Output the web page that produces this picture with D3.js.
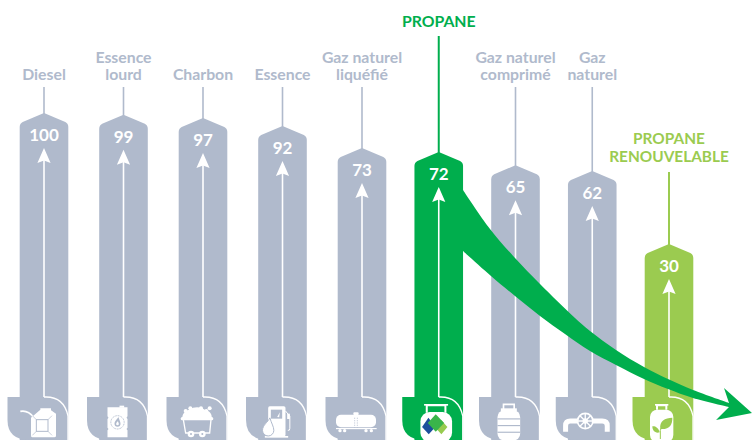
<!DOCTYPE html>
<html>
<head>
<meta charset="utf-8">
<script src="https://cdn.jsdelivr.net/npm/d3@7"></script>
<style>
html, body { margin: 0; padding: 0; background: #fff; }
svg { display: block; }
text { font-family: Lato, sans-serif; font-weight: 700; }
</style>
</head>
<body>
<div id="graph"></div>
<script>
const width = 752, height = 440;

const fuels = ["Diesel", "Essence lourd", "Charbon", "Essence", "Gaz naturel liquéfié", "PROPANE", "Gaz naturel comprimé", "Gaz naturel", "PROPANE RENOUVELABLE"];
const labelLines = [["Diesel"], ["Essence", "lourd"], ["Charbon"], ["Essence"], ["Gaz naturel", "liquéfié"], ["PROPANE"], ["Gaz naturel", "comprimé"], ["Gaz", "naturel"], ["PROPANE", "RENOUVELABLE"]];
const values = [100, 99, 97, 92, 73, 72, 65, 62, 30];
const kinds = ["grey", "grey", "grey", "grey", "grey", "propane", "grey", "grey", "renew"];
const icons = ["can", "barrel", "cart", "pump", "tanker", "logo", "cylinder", "valve", "leaf"];

const grey = "#b0bacc", green = "#00ae4d", lime = "#9bcb50";
const colors = {grey: grey, propane: green, renew: lime};

// the original bars are not drawn to a strict linear scale, so several knots
const xScale = d3.scaleLinear().domain([0, 4, 8]).range([44, 362, 669]);
const yScale = d3.scaleLinear().domain([30, 62, 72, 73, 92, 100]).range([244, 171, 152, 148, 126, 113]);

const halfBar = 24.3, tileTop = 397;

const svg = d3.select("#graph").append("svg").attr("width", width).attr("height", height);

const groups = svg.selectAll("g.fuel").
data(fuels).
enter().
append("g").
attr("class", "fuel").
attr("transform", (d, i) => "translate(" + xScale(i) + ",0)");

// leader lines
groups.append("line").
attr("y1", (d, i) => kinds[i] === "propane" ? 36 : kinds[i] === "renew" ? 172 : 87).
attr("y2", (d, i) => yScale(values[i]) + 1).
attr("stroke", (d, i) => colors[kinds[i]]).
attr("stroke-width", (d, i) => kinds[i] === "grey" ? 1.6 : 2);

// bars with the pointed top
groups.append("path").
attr("fill", (d, i) => colors[kinds[i]]).
attr("d", (d, i) => {
  const y = yScale(values[i]);
  return "M0," + y + "L" + (halfBar - 3) + "," + (y + 9) + "Q" + halfBar + "," + (y + 10.5) + " " + halfBar + "," + (y + 14) +
  "V" + height + "H" + -halfBar + "V" + (y + 14) + "Q" + -halfBar + "," + (y + 10.5) + " " + (3 - halfBar) + "," + (y + 9) + "Z";
});

// value
groups.append("text").
attr("text-anchor", "middle").
attr("y", (d, i) => yScale(values[i]) + 28).
attr("font-size", 17).
attr("fill", "#fff").
text((d, i) => values[i]);

// white arrow in the bar
groups.append("line").
attr("y1", (d, i) => yScale(values[i]) + 45).
attr("y2", tileTop).
attr("stroke", "#fff").
attr("stroke-width", 1.6);
groups.append("path").
attr("fill", "#fff").
attr("d", (d, i) => {
  const y = yScale(values[i]) + 35;
  return "M0," + y + "L6.6," + (y + 15) + "L0," + (y + 12.5) + "L-6.6," + (y + 15) + "Z";
});

// labels
groups.each(function (d, i) {
  const lines = labelLines[i];
  const bottom = kinds[i] === "propane" ? 26.5 : kinds[i] === "renew" ? 162 : 80;
  const step = kinds[i] === "renew" ? 18 : 17.5;
  d3.select(this).selectAll("text.label").
  data(lines).
  enter().
  append("text").
  attr("class", "label").
  attr("text-anchor", "middle").
  attr("font-size", kinds[i] === "grey" ? 15.8 : kinds[i] === "propane" ? 15.8 : 15.4).
  attr("y", (l, j) => bottom - (lines.length - 1 - j) * step).
  attr("fill", colors[kinds[i]]).
  text(l => l);
});

// tiles at the foot of each bar
groups.append("path").
attr("fill", (d, i) => colors[kinds[i]]).
attr("d", "M-36.5," + tileTop + "H2Q20," + tileTop + " 24," + (tileTop + 19) + "V" + height + "H-14Q-36.5," + height + " -36.5," + (height - 20) + "Z");
groups.append("path").
attr("fill", "none").
attr("stroke", "#fff").
attr("stroke-width", 1.3).
attr("d", "M0," + tileTop + "H2Q20," + tileTop + " 24," + (tileTop + 19) + "V" + height);

// icons are drawn at 3x and scaled down
const iconLayer = groups.append("g").
attr("transform", "translate(0," + tileTop + ") scale(0.3333)");

function drop(g, cx, cy, r, fill, stroke) {
  g.append("path").
  attr("d", "M" + (cx + r * 0.3) + "," + (cy - r * 2.2) + "C" + (cx + r * 0.6) + "," + (cy - r * 1.2) + " " + (cx + r) + "," + (cy - r * 0.6) + " " + (cx + r) + "," + cy +
  "A" + r + "," + r + " 0 1 1 " + (cx - r) + "," + cy + "C" + (cx - r) + "," + (cy - r * 0.9) + " " + cx + "," + (cy - r * 1.5) + " " + (cx + r * 0.3) + "," + (cy - r * 2.2) + "Z").
  attr("fill", fill).
  attr("stroke", stroke || "none").
  attr("stroke-width", 3);
}

const drawIcon = {
  can(g, c) {
    g.append("path").attr("fill", "none").attr("stroke", "#fff").attr("stroke-width", 5).attr("d", "M-71,43Q-48,38 -30,62");
    g.append("path").attr("fill", "#fff").attr("d", "M-39,62L-11,38V34H21V40L36,50V116Q36,121 31,121H-34Q-39,121 -39,116Z");
    g.append("rect").attr("x", -23).attr("y", 68).attr("width", 35).attr("height", 35).attr("fill", "none").attr("stroke", c).attr("stroke-width", 3);
    g.append("path").attr("stroke", c).attr("stroke-width", 2).attr("d", "M-35,56L-23,68M24,56L12,68M-35,115L-23,103M24,115L12,103");
  },
  barrel(g, c) {
    g.append("rect").attr("x", -12).attr("y", 26).attr("width", 14).attr("height", 6).attr("fill", "#fff");
    g.append("path").attr("fill", "#fff").attr("d", "M-48,31H12V58L9,62L12,66V92L9,96L12,100V121H-48V100L-45,96L-48,92V66L-45,62L-48,58Z");
    g.append("circle").attr("cx", -18).attr("cy", 76).attr("r", 20).attr("fill", "none").attr("stroke", c).attr("stroke-width", 3).attr("stroke-dasharray", "3 2");
    drop(g, -18, 80, 9, c);
    drop(g, -18, 81, 4, "#fff");
  },
  cart(g, c) {
    g.append("path").attr("fill", "#fff").attr("d", "M-62,62C-62,48 -50,40 -40,38C-30,28 -5,28 5,38C18,40 28,50 26,62Z");
    [-52, -38, -22, -6, 10, 20].forEach((x, i) => {
      g.append("circle").attr("cx", x).attr("cy", i % 2 ? 34 : 42).attr("r", 6).attr("fill", "#fff");
    });
    g.append("rect").attr("x", -67).attr("y", 60).attr("width", 98).attr("height", 10).attr("rx", 5).attr("fill", "#fff");
    g.append("path").attr("fill", "none").attr("stroke", "#fff").attr("stroke-width", 4).attr("d", "M-59,68L-52,108H20L24,68");
    [-36, -2].forEach(x => {
      g.append("circle").attr("cx", x).attr("cy", 111).attr("r", 10).attr("fill", "#fff");
      g.append("circle").attr("cx", x).attr("cy", 111).attr("r", 3).attr("fill", c);
    });
  },
  pump(g, c) {
    g.append("rect").attr("x", -43).attr("y", 28).attr("width", 52).attr("height", 90).attr("rx", 5).attr("fill", "#fff");
    g.append("rect").attr("x", -53).attr("y", 117).attr("width", 70).attr("height", 5).attr("fill", "#fff");
    g.append("rect").attr("x", -35).attr("y", 38).attr("width", 34).attr("height", 27).attr("fill", c);
    g.append("path").attr("fill", "#fff").attr("d", "M-16,60L-8,46L-10,61Z");
    g.append("path").attr("fill", "none").attr("stroke", "#fff").attr("stroke-width", 3).attr("d", "M9,42L22,58V94Q22,102 16,100");
    g.append("rect").attr("x", 14).attr("y", 50).attr("width", 8).attr("height", 16).attr("fill", "#fff");
    drop(g, -43, 100, 17, "#fff", c);
  },
  tanker(g) {
    g.append("rect").attr("x", -78).attr("y", 53).attr("width", 120).attr("height", 38).attr("rx", 15).attr("fill", "#fff");
    g.append("rect").attr("x", -26).attr("y", 46).attr("width", 16).attr("height", 8).attr("rx", 3).attr("fill", "#fff");
    g.append("rect").attr("x", -78).attr("y", 93).attr("width", 122).attr("height", 3.5).attr("fill", "#fff");
    g.append("path").attr("stroke", grey).attr("stroke-width", 2).attr("stroke-dasharray", "4 3").attr("fill", "none").attr("d", "M-22,62V92M-14,62V92");
    [-66, -52, 12, 28].forEach(x => {
      g.append("circle").attr("cx", x).attr("cy", 101).attr("r", 5).attr("fill", "#fff");
    });
  },
  logo(g) {
    g.append("path").attr("fill", "none").attr("stroke", "#fff").attr("stroke-width", 6).attr("d", "M-36,47V25H20V47");
    g.append("rect").attr("x", -44).attr("y", 21).attr("width", 72).attr("height", 5).attr("fill", "#fff");
    g.append("rect").attr("x", -55).attr("y", 45).attr("width", 95).attr("height", 90).attr("rx", 28).attr("fill", "#fff");
    g.append("path").attr("fill", "#1c4f9c").attr("d", "M-31,62L-10,90L-30,112L-50,90Z");
    g.append("path").attr("fill", "#97cb4f").attr("d", "M8,70L26,90L8,112L-12,90Z");
    g.append("path").attr("fill", "#3ab54a").attr("d", "M-9,52L16,78L-9,104L-33,78Z");
  },
  cylinder(g, c) {
    g.append("path").attr("fill", "none").attr("stroke", "#fff").attr("stroke-width", 5).attr("d", "M-36,36V22H-4V36");
    g.append("rect").attr("x", -44).attr("y", 34).attr("width", 48).attr("height", 8).attr("fill", "#fff");
    g.append("rect").attr("x", -54).attr("y", 40).attr("width", 68).attr("height", 90).attr("rx", 20).attr("fill", "#fff");
    [64, 84, 104].forEach(y => {
      g.append("rect").attr("x", -54).attr("y", y).attr("width", 68).attr("height", 3.5).attr("fill", c);
    });
  },
  valve(g, c) {
    g.append("path").attr("fill", "none").attr("stroke", "#fff").attr("stroke-width", 15).attr("d", "M-80,104V86Q-80,72 -66,72H-40");
    g.append("path").attr("fill", "none").attr("stroke", "#fff").attr("stroke-width", 15).attr("d", "M0,72H30Q45,72 45,86V104");
    g.append("circle").attr("cx", -21).attr("cy", 72).attr("r", 23).attr("fill", c).attr("stroke", "#fff").attr("stroke-width", 5);
    g.append("path").attr("stroke", "#fff").attr("stroke-width", 4).attr("d", "M-44,72H2M-21,49V95M-37,56L-5,88M-5,56L-37,88");
    g.append("circle").attr("cx", -21).attr("cy", 72).attr("r", 8).attr("fill", "#fff");
  },
  leaf(g, c) {
    g.append("path").attr("fill", "none").attr("stroke", "#fff").attr("stroke-width", 6).attr("d", "M-36,38V25H-8V38");
    g.append("rect").attr("x", -42).attr("y", 21).attr("width", 40).attr("height", 5).attr("fill", "#fff");
    g.append("rect").attr("x", -57).attr("y", 38).attr("width", 70).attr("height", 98).attr("rx", 22).attr("fill", "#fff");
    g.append("path").attr("fill", c).attr("d", "M-26,96C-30,72 -12,62 10,62C10,84 2,98 -26,96Z");
    g.append("path").attr("fill", c).attr("d", "M-28,106C-32,90 -44,86 -50,88C-50,100 -42,110 -28,106Z");
    g.append("path").attr("fill", "none").attr("stroke", c).attr("stroke-width", 3).attr("d", "M-26,126V100Q-24,88 -12,80");
  }
};

iconLayer.each(function (d, i) {
  drawIcon[icons[i]](d3.select(this), colors[kinds[i]]);
});

// big green arrow from propane down to the renewable bar
const upperEdge = [[463, 190], [490, 229], [515, 258], [540, 284], [575, 318], [590, 331], [616, 350], [644, 367], [668, 379], [693, 390], [729, 403]];
const lowerEdge = [[729, 407], [693, 398], [668, 389], [644, 379], [616, 365], [590, 351], [565, 334], [540, 316], [515, 296], [491, 276], [463, 251]];
const edge = d3.line().curve(d3.curveCatmullRom);

svg.append("path").
attr("fill", green).
attr("d", edge(upperEdge) + "L724,388L752,413L716,420" + edge(lowerEdge).replace(/^M/, "L") + "Z");
</script>
</body>
</html>
